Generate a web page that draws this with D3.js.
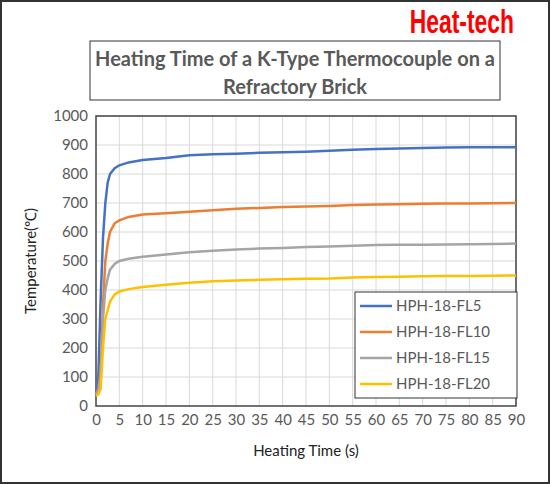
<!DOCTYPE html>
<html><head><meta charset="utf-8">
<script src="https://cdn.jsdelivr.net/npm/d3@7"></script>
<style>body{margin:0;background:#fff}text{font-family:Lato,"Open Sans",sans-serif}</style>
</head><body>
<script>
// data
const times = [0, 0.5, 1, 1.5, 2, 2.5, 3, 4, 5, 7, 10, 15, 20, 25, 30, 35, 40, 45, 50, 55, 60, 65, 70, 75, 80, 85, 90];
const fl5  = [40, 100, 370, 580, 700, 770, 800, 820, 830, 840, 848, 855, 865, 868, 870, 873, 875, 877, 880, 884, 886, 888, 890, 891, 892, 892, 892];
const fl10 = [40, 60, 120, 350, 500, 560, 600, 630, 640, 652, 660, 665, 670, 675, 680, 683, 686, 688, 690, 693, 695, 696, 697, 698, 698, 699, 700];
const fl15 = [40, 50, 100, 300, 400, 440, 470, 490, 500, 508, 515, 522, 530, 535, 540, 543, 545, 548, 550, 553, 555, 556, 556, 557, 558, 559, 560];
const fl20 = [35, 40, 60, 200, 300, 330, 360, 385, 395, 403, 410, 418, 425, 430, 433, 435, 437, 439, 440, 443, 445, 446, 447, 448, 448, 449, 450];
const seriesNames = ["HPH-18-FL5", "HPH-18-FL10", "HPH-18-FL15", "HPH-18-FL20"];
const seriesColors = ["#4472c4", "#ed7d31", "#a5a5a5", "#ffc000"];
const seriesVals = [fl5, fl10, fl15, fl20];

const W = 550, H = 484;
const svg = d3.select("body").append("svg").attr("width", W).attr("height", H);
svg.append("rect").attr("x", 1).attr("y", 1).attr("width", W - 2).attr("height", H - 2)
    .attr("fill", "#fff").attr("stroke", "#333").attr("stroke-width", 2);

const x = d3.scaleLinear().domain([0, 90]).range([96, 516]);
const y = d3.scaleLinear().domain([0, 1000]).range([406, 116]);

// gridlines
svg.append("g").selectAll("line").data(d3.range(5, 95, 5)).join("line")
    .attr("x1", d => x(d)).attr("x2", d => x(d)).attr("y1", y(0)).attr("y2", y(1000))
    .attr("stroke", "#d9d9d9");
svg.append("g").selectAll("line").data(d3.range(100, 1100, 100)).join("line")
    .attr("x1", x(0)).attr("x2", x(90)).attr("y1", d => y(d)).attr("y2", d => y(d))
    .attr("stroke", "#d9d9d9");
svg.append("rect").attr("x", x(0)).attr("y", y(1000)).attr("width", x(90) - x(0)).attr("height", y(0) - y(1000))
    .attr("fill", "none").attr("stroke", "#444").attr("stroke-width", 1.5);

// axes
const ax = svg.append("g").attr("transform", `translate(0,${y(0)})`)
    .call(d3.axisBottom(x).tickValues(d3.range(0, 95, 5)).tickFormat(d3.format("d")).tickSize(0).tickPadding(8));
const ay = svg.append("g").attr("transform", `translate(${x(0)},0)`)
    .call(d3.axisLeft(y).tickValues(d3.range(0, 1100, 100)).tickFormat(d3.format("d")).tickSize(0).tickPadding(8));
[ax, ay].forEach(g => {
    g.select(".domain").remove();
    g.selectAll("text").attr("font-size", 15).attr("fill", "#595959").style("font-family", "Lato,sans-serif");
});

// lines
const line = d3.line().x((d, i) => x(times[i])).y(d => y(d));
seriesVals.forEach((v, i) => {
    svg.append("path").datum(v).attr("d", line).attr("fill", "none")
        .attr("stroke", seriesColors[i]).attr("stroke-width", 2.5);
});

// axis titles
svg.append("text").attr("x", (x(0) + x(90)) / 2).attr("y", 456).attr("text-anchor", "middle")
    .attr("font-size", 15).attr("fill", "#222").text("Heating Time (s)");
svg.append("text").attr("transform", `translate(36,${(y(0) + y(1000)) / 2}) rotate(-90)`)
    .attr("text-anchor", "middle").attr("font-size", 15).attr("fill", "#222").text("Temperature(℃)");

// title
svg.append("rect").attr("x", 90).attr("y", 41).attr("width", 410).attr("height", 59)
    .attr("fill", "#fff").attr("stroke", "#333").attr("stroke-width", 1);
svg.append("text").attr("x", 295).attr("y", 66).attr("text-anchor", "middle").attr("font-size", 20)
    .attr("font-weight", "bold").attr("fill", "#595959").text("Heating Time of a K-Type Thermocouple on a");
svg.append("text").attr("x", 295).attr("y", 94).attr("text-anchor", "middle").attr("font-size", 20)
    .attr("font-weight", "bold").attr("fill", "#595959").text("Refractory Brick");

// brand
svg.append("text").attr("transform", "translate(514,33) scale(0.88,1.25)").attr("text-anchor", "end")
    .attr("font-size", 26).attr("font-weight", "bold").attr("fill", "#ff0000")
    .style("font-family", "'Liberation Sans','DejaVu Sans',sans-serif").text("Heat-tech");

// legend
const lg = svg.append("g");
lg.append("rect").attr("x", 355).attr("y", 292).attr("width", 162).attr("height", 106)
    .attr("fill", "#fff").attr("stroke", "#333");
seriesNames.forEach((n, i) => {
    const yy = 306 + i * 26;
    lg.append("line").attr("x1", 360).attr("x2", 392).attr("y1", yy).attr("y2", yy)
        .attr("stroke", seriesColors[i]).attr("stroke-width", 2.5);
    lg.append("text").attr("x", 396).attr("y", yy + 5).attr("font-size", 15).attr("fill", "#595959").text(n);
});
</script>
</body></html>
